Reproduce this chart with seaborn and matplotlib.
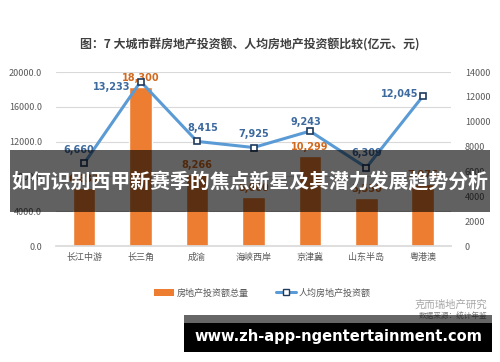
import numpy as np
import pandas as pd
import matplotlib
matplotlib.use("Agg")
import matplotlib.pyplot as plt
import seaborn as sns
from matplotlib.patches import Rectangle, Patch
from matplotlib.lines import Line2D

# ---- data ----
categories = ["长江中游", "长三角", "成渝", "海峡西岸", "京津冀", "山东半岛", "粤港澳"]
invest_total = [6633, 18300, 8266, 5660, 10299, 5550, 7076]          # 亿元
invest_per_capita = [6660, 13233, 8415, 7925, 9243, 6309, 12045]    # 元
left_ticks = [0, 4000, 8000, 12000, 16000, 20000]
right_ticks = [0, 2000, 4000, 6000, 8000, 10000, 12000, 14000]
title = "图：7 大城市群房地产投资额、人均房地产投资额比较(亿元、元)"
legend_labels = ["房地产投资额总量", "人均房地产投资额"]
banner_text = "如何识别西甲新赛季的焦点新星及其潜力发展趋势分析"
url_text = "www.zh-app-ngentertainment.com"
source_text = "数据来源：统计年鉴"
brand_text = "克而瑞地产研究"

sns.set_theme(style="white")
plt.rcParams["font.family"] = ["Noto Sans CJK SC", "DejaVu Sans"]

W, H = 500, 362
fig = plt.figure(figsize=(5.0, 3.62), dpi=100)
fig.patch.set_facecolor("white")

def fx(px): return px / W
def fy(py): return 1 - py / H

ax = fig.add_axes([fx(56), fy(246), fx(451) - fx(56), fy(72) - fy(246)])
ax2 = ax.twinx()

ORANGE = "#ED7D31"
BLUE = "#5B9BD5"
NAVY = "#1F3A5F"
LBL_BLUE = "#3D6A9E"
LBL_ORANGE = "#D2691E"
TICK = "#595959"

df = pd.DataFrame({"cat": categories, "total": invest_total, "pc": invest_per_capita})
sns.barplot(data=df, x="cat", y="total", ax=ax, color=ORANGE, saturation=1,
            width=0.4, zorder=2)
ax.set_ylim(0, 20000)
ax.set_yticks(left_ticks)
ax.set_yticklabels([f"{v:.1f}" for v in left_ticks])
ax.set_xlim(-0.5, len(categories) - 0.5)
ax.set_xlabel("")
ax.set_ylabel("")
for t in left_ticks[1:]:
    ax.axhline(t, color="#D9D9D9", lw=0.8, zorder=0)
for s in ["left", "right", "top"]:
    ax.spines[s].set_visible(False)
ax.spines["bottom"].set_color("#D9D9D9")
ax.tick_params(axis="y", length=0, pad=10, labelsize=6.5, labelcolor=TICK)
ax.tick_params(axis="x", length=0, pad=5, labelsize=6.5, labelcolor=TICK)

for i, v in enumerate(invest_total):
    ax.annotate(f"{v:,}", (i, v), xytext=(0, 3), textcoords="offset points",
                ha="center", va="bottom", fontsize=7, color=LBL_ORANGE,
                fontweight="bold", family="DejaVu Sans")

x_pos = np.arange(len(categories))
sns.lineplot(x=x_pos, y=invest_per_capita, ax=ax2, color=BLUE, lw=2.2,
             marker="s", markersize=5, markerfacecolor="white",
             markeredgecolor=NAVY, markeredgewidth=1.2, zorder=3)
ax2.set_ylim(0, 14000)
ax2.set_yticks(right_ticks)
ax2.set_yticklabels([str(v) for v in right_ticks])
ax2.tick_params(axis="y", length=0, pad=10, labelsize=6.5, labelcolor=TICK)
for s in ["left", "right", "top", "bottom"]:
    ax2.spines[s].set_visible(False)
ax2.set_ylabel("")

# (dx, dy, ha, va) offsets in points for per-capita labels
label_pos = [(-4, 6, "center", "bottom"), (-7, -4, "right", "center"),
             (4, 6, "center", "bottom"), (0, 6, "center", "bottom"),
             (-3, 3, "center", "bottom"), (0, 7, "center", "bottom"),
             (-3, 2, "right", "center")]
for i, v in enumerate(invest_per_capita):
    dx, dy, ha, va = label_pos[i]
    ax2.annotate(f"{v:,}", (i, v), xytext=(dx, dy), textcoords="offset points",
                 ha=ha, va=va, fontsize=7, color=LBL_BLUE,
                 fontweight="bold", family="DejaVu Sans")

fig.text(0.5, fy(45), title, ha="center", va="center", fontsize=8.6,
         fontweight="bold", color="#404040")

handles = [Patch(facecolor=ORANGE, edgecolor="none"),
           Line2D([0], [0], color=BLUE, lw=2.2, marker="s", markersize=4,
                  markerfacecolor="white", markeredgecolor=NAVY)]
fig.legend(handles, legend_labels, loc="center", bbox_to_anchor=(0.525, fy(293)),
           ncol=2, frameon=False, fontsize=6.5, labelcolor=TICK,
           columnspacing=3, handlelength=2.2, handletextpad=0.3)

fig.text(fx(487), fy(305), brand_text, ha="right", va="center", fontsize=7.5,
         color="#A8A8A8")
fig.text(fx(487), fy(317), source_text, ha="right", va="center", fontsize=5.5,
         color="#808080")

# banner overlay
fig.patches.append(Rectangle((fx(10), fy(212)), fx(490) - fx(10), fy(150) - fy(212),
                             transform=fig.transFigure, facecolor="black",
                             alpha=0.62, edgecolor="none", zorder=10))
fig.text(0.5, fy(182), banner_text, ha="center", va="center", fontsize=14.3,
         fontweight="bold", color="white", zorder=11)

# url overlay
fig.patches.append(Rectangle((fx(184), fy(323)), fx(492) - fx(184), fy(315) - fy(323),
                             transform=fig.transFigure, facecolor="black",
                             alpha=0.6, edgecolor="none", zorder=10))
fig.patches.append(Rectangle((fx(184), fy(352)), fx(492) - fx(184), fy(323) - fy(352),
                             transform=fig.transFigure, facecolor="black",
                             edgecolor="none", zorder=10))
fig.text(fx(338), fy(337), url_text, ha="center", va="center", fontsize=10.5,
         fontweight="bold", color="white", family="DejaVu Sans", zorder=11)

fig.savefig("out.png", dpi=100)
